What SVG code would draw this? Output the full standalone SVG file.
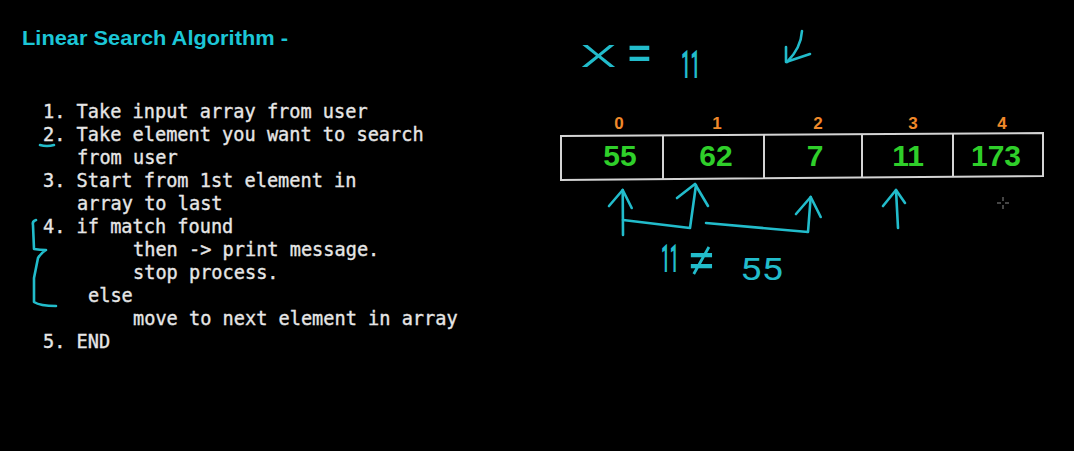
<svg xmlns="http://www.w3.org/2000/svg" width="1074" height="451" viewBox="0 0 1074 451">
<style>
.title{font-family:"Liberation Sans",Arial,sans-serif;font-weight:bold;font-size:20px;fill:#1cc6d6}
.code{font-family:"DejaVu Sans Mono","Liberation Mono",monospace;font-size:18.6px;fill:#e6e6e6;stroke:#e6e6e6;stroke-width:0.35}
.idx{font-family:"Liberation Sans",Arial,sans-serif;font-weight:bold;font-size:17px;fill:#f0892a;text-anchor:middle}
.val{font-family:"Liberation Sans",Arial,sans-serif;font-weight:bold;font-size:30px;fill:#2fcf2a;text-anchor:middle}
.hand{font-family:Roboto,"Liberation Sans",Arial,sans-serif;font-weight:300;fill:#22bccb}
.handm{font-family:Roboto,"Liberation Sans",Arial,sans-serif;font-weight:400;fill:#22bccb}
.handb{font-family:Roboto,"Liberation Sans",Arial,sans-serif;font-weight:700;fill:#22bccb}
.ink{fill:none;stroke:#22bccb;stroke-width:2.6;stroke-linecap:round;stroke-linejoin:round}
.cell{fill:none;stroke:#d4d4d4;stroke-width:2}
</style>
<rect width="1074" height="451" fill="#000"/>
<g id="title">
<text class="title" x="22" y="45" textLength="266" lengthAdjust="spacingAndGlyphs">Linear Search Algorithm -</text>
</g>
<g id="steps">
<text class="code" x="43" y="118">1. Take input array from user</text>
<text class="code" x="43" y="141">2. Take element you want to search</text>
<text class="code" x="77" y="164">from user</text>
<text class="code" x="43" y="187">3. Start from 1st element in</text>
<text class="code" x="77" y="210">array to last</text>
<text class="code" x="43" y="233">4. if match found</text>
<text class="code" x="133" y="256">then -&gt; print message.</text>
<text class="code" x="133" y="279">stop process.</text>
<text class="code" x="88" y="302">else</text>
<text class="code" x="133" y="325">move to next element in array</text>
<text class="code" x="43" y="348">5. END</text>
</g>
<g id="annotations-left">
<path class="ink" d="M40,145 Q47,147 54,145"/>
<path class="ink" d="M36,220 Q32,221 33,225 L34,249 Q40,250 46,250 Q41,253 38,258 L34,278 L34,302 Q40,306 56,306"/>
</g>
<g id="target">
<text class="hand" style="font-size:40px" transform="translate(580,67) scale(1.9,1)">x</text>
<text class="handm" style="font-size:42px" transform="translate(626,72) scale(1.15,1.3)">=</text>
<text class="handb" style="font-size:39px" transform="translate(681,78) scale(0.42,1)">11</text>
<path class="ink" d="M802,31 Q801,48 787,62"/>
<path class="ink" d="M786,47 L786,62 L810,54"/>
</g>
<g id="array">
<path class="cell" d="M561,136 L1043,133 L1043,176 L561,180 Z"/>
<line class="cell" x1="663" y1="135" x2="663" y2="179"/>
<line class="cell" x1="764" y1="134" x2="764" y2="178"/>
<line class="cell" x1="862" y1="134" x2="862" y2="177"/>
<line class="cell" x1="953" y1="133" x2="953" y2="176"/>
<text class="idx" x="619" y="129">0</text>
<text class="idx" x="717" y="129">1</text>
<text class="idx" x="818" y="129">2</text>
<text class="idx" x="913" y="129">3</text>
<text class="idx" x="1002" y="129">4</text>
<text class="val" x="620" y="166">55</text>
<text class="val" x="716" y="166">62</text>
<text class="val" x="815" y="166">7</text>
<text class="val" x="908" y="166">11</text>
<text class="val" x="996" y="166">173</text>
</g>
<g id="connectors">
<path class="ink" d="M623,235 L622.7,190"/>
<path class="ink" d="M609,206 L622.7,190 L631.7,208"/>
<path class="ink" d="M623,220 L690,228 L696,185"/>
<path class="ink" d="M677,198 L695,184 L708,206"/>
<path class="ink" d="M706,223 L808,232 L810.7,197"/>
<path class="ink" d="M796,214 L810.7,197 L820.7,217"/>
<path class="ink" d="M898,228 L896,190"/>
<path class="ink" d="M883,206 L896,190 L905,203"/>
</g>
<g id="comparison">
<text class="handb" style="font-size:38px" transform="translate(661,272) scale(0.4,1)">11</text>
<text class="handm" style="font-size:40px" transform="translate(687,279) scale(1.3,1.35)">≠</text>
<text class="handm" style="font-size:32px" transform="translate(740,280) scale(1.2,1)">55</text>
</g>
<g id="cursor" stroke="#8a8a8a" stroke-width="1">
<line x1="997" y1="203" x2="1001" y2="203"/>
<line x1="1005" y1="203" x2="1009" y2="203"/>
<line x1="1003" y1="197" x2="1003" y2="201"/>
<line x1="1003" y1="205" x2="1003" y2="209"/>
</g>
</svg>
